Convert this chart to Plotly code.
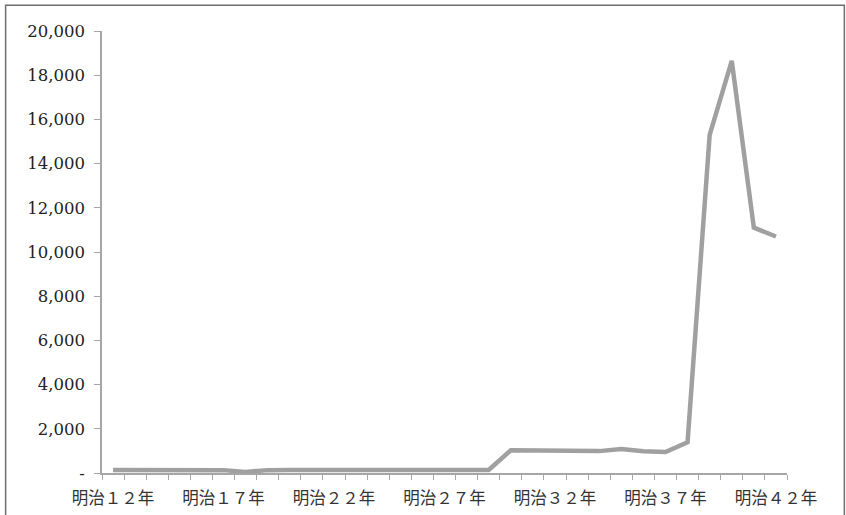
import plotly.graph_objects as go

years = [f"明治{y}年" for y in range(12, 43)]
values = [140, 140, 140, 140, 140, 130, 50, 130, 140, 140,
          140, 140, 140, 140, 140, 140, 140, 140, 1030, 1030,
          1020, 1000, 990, 1080, 980, 950, 1390, 15300, 18650, 11100,
          10700]

def fw(s):
    return s.translate(str.maketrans("0123456789", "０１２３４５６７８９"))

label_idx = list(range(0, 31, 5))
label_text = [fw(years[i]) for i in label_idx]
ytick_vals = list(range(0, 20001, 2000))
ytick_text = ["-"] + [f"{v:,}" for v in ytick_vals[1:]]

x = list(range(len(years)))

fig = go.Figure()
fig.add_trace(go.Scatter(x=x, y=values, mode="lines",
                         line=dict(color="#a0a0a0", width=4.5),
                         hoverinfo="skip", showlegend=False))

fig.update_layout(
    width=846, height=515,
    margin=dict(l=102, r=59, t=31, b=42),
    paper_bgcolor="white", plot_bgcolor="white",
    xaxis=dict(range=[-0.5, 30.5], tickmode="array", tickvals=label_idx,
               ticktext=label_text, ticks="", showgrid=False, zeroline=False,
               showline=True, linecolor="#a6a6a6", linewidth=1.5, automargin=False,
               tickfont=dict(family="Noto Sans CJK JP", size=16.5, color="#333333"),
               minor=dict(tickmode="linear", tick0=-0.5, dtick=1, ticks="outside",
                          ticklen=5, tickcolor="#a6a6a6", tickwidth=1.2, showgrid=False),
               ticklabelstandoff=9),
    yaxis=dict(range=[0, 20000], tickmode="array", tickvals=ytick_vals,
               ticktext=ytick_text, ticks="outside", ticklen=6, tickcolor="#a6a6a6",
               tickwidth=1.2, showgrid=False, zeroline=False, showline=True,
               linecolor="#a6a6a6", linewidth=1.5, automargin=False,
               tickfont=dict(family="DejaVu Serif", size=16.5, color="#222222"),
               ticklabelstandoff=6),
    font=dict(family="DejaVu Serif"),
)

fig.add_shape(type="rect", xref="paper", yref="paper",
              x0=-0.1407, x1=1.0837, y0=-0.12, y1=1.058,
              line=dict(color="#6e6e6e", width=1.5), layer="below")

fig.write_html("out.html")
